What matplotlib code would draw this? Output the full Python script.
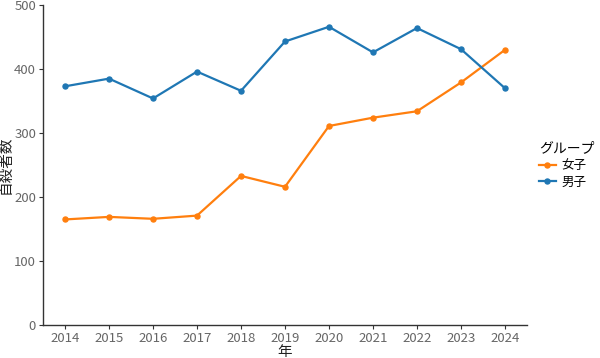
import matplotlib
matplotlib.use('Agg')
import matplotlib.pyplot as plt

# データ
years = [2014, 2015, 2016, 2017, 2018, 2019, 2020, 2021, 2022, 2023, 2024]
girls = [165, 169, 166, 171, 233, 216, 311, 324, 334, 379, 430]
boys = [373, 385, 354, 396, 366, 443, 466, 426, 464, 431, 370]

plt.rcParams['font.family'] = ['Noto Sans CJK JP', 'DejaVu Sans']

fig = plt.figure(figsize=(6, 3.58), dpi=100)
ax = fig.add_axes([0.0717, 0.092, 0.8066, 0.894])

ax.plot(years, girls, color='#ff7f0e', marker='o', markersize=3.6, linewidth=1.6, label='女子')
ax.plot(years, boys, color='#1f77b4', marker='o', markersize=3.6, linewidth=1.6, label='男子')

ax.set_xlim(2013.5, 2024.5)
ax.set_ylim(0, 500)
ax.set_xticks(years)
ax.set_yticks([0, 100, 200, 300, 400, 500])

for s in ['top', 'right']:
    ax.spines[s].set_visible(False)
for s in ['left', 'bottom']:
    ax.spines[s].set_color('#333333')
    ax.spines[s].set_linewidth(1.0)
ax.tick_params(axis='both', labelsize=9.5, colors='#333333', labelcolor='#666666',
               length=3, width=0.8, pad=2)

ax.set_xlabel('年', fontsize=10.5, color='#222222', labelpad=0)
ax.set_ylabel('自殺者数', fontsize=10.5, color='#222222', labelpad=1)

leg = ax.legend(title='グループ', loc='center left', bbox_to_anchor=(1.01, 0.5),
                frameon=False, fontsize=9, title_fontsize=10,
                handlelength=1.3, handletextpad=0.5, borderaxespad=0.2, labelspacing=0.3)
leg._legend_box.align = 'left'

fig.savefig('out.png', dpi=100)
